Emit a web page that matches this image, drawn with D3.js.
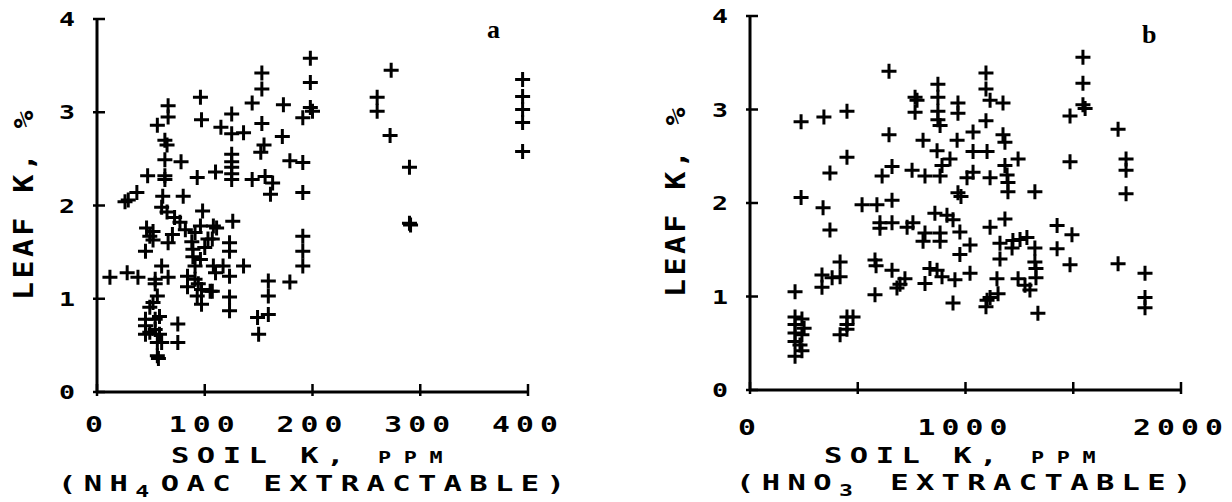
<!DOCTYPE html>
<html lang="en">
<head>
<meta charset="UTF-8">
<title>Leaf K vs soil K</title>
<script src="https://d3js.org/d3.v7.min.js"></script>
<style>
  body { margin: 0; background: #fff; }
  text { fill: #000; }
</style>
</head>
<body>
<svg id="chart" width="1232" height="502"></svg>
<script>
// panel a: NH4OAc extractable soil K (ppm) vs leaf K (%)
const aSoilK = [198,198,198,200,191,173,172,153,153,144,96,97,66,66,56,125,115,125,136,153,
  155,152,63,65,63,78,179,191,125,125,125,125,47,63,63,93,110,156,125,144,
  163,161,191,29,37,26,61,80,60,65,72,77,98,46,52,49,52,70,66,82,
  91,88,96,103,108,100,126,111,107,123,123,45,89,89,96,91,84,91,94,84,
  97,105,93,97,60,12,28,38,54,66,54,56,52,49,45,54,58,45,49,54,
  45,58,56,60,56,57,75,75,108,117,123,110,136,107,123,123,159,159,159,149,
  150,179,191,191,191,273,260,260,272,290,290,291,395,395,395,395,395];
const aLeafK = [3.58,3.32,3.05,3.01,2.94,3.08,2.74,3.42,3.25,3.10,3.16,2.92,3.07,2.95,2.86,2.98,2.84,2.77,2.78,2.88,
  2.65,2.57,2.70,2.65,2.49,2.47,2.48,2.46,2.55,2.47,2.41,2.34,2.32,2.32,2.28,2.30,2.36,2.31,2.28,2.28,
  2.24,2.12,2.14,2.06,2.14,2.04,2.10,2.10,1.98,1.93,1.87,1.82,1.94,1.76,1.72,1.67,1.63,1.69,1.60,1.74,
  1.71,1.61,1.78,1.64,1.78,1.55,1.83,1.76,1.64,1.60,1.51,1.51,1.53,1.45,1.42,1.35,1.24,1.21,1.16,1.13,
  1.10,1.08,1.03,0.94,1.35,1.23,1.28,1.23,1.21,1.23,1.16,1.03,0.96,0.91,0.78,0.78,0.81,0.71,0.64,0.67,
  0.62,0.62,0.53,0.53,0.39,0.36,0.73,0.53,1.35,1.35,1.24,1.28,1.35,1.08,1.02,0.87,1.19,1.03,0.83,0.80,
  0.62,1.18,1.67,1.51,1.35,3.45,3.16,3.01,2.75,2.41,1.81,1.79,3.35,3.17,3.03,2.89,2.58];

// panel b: HNO3 extractable soil K (ppm) vs leaf K (%)
const bSoilK = [1545,1545,1545,1555,1485,1708,1745,1745,1745,1485,645,1095,1095,1114,1174,1095,872,872,766,775,
  766,872,872,882,965,965,1035,1174,1183,1244,645,450,343,237,450,371,237,339,371,803,
  961,868,928,1035,1100,659,613,752,812,882,891,1035,1007,1114,1183,1193,1197,1197,965,979,
  1322,520,589,659,603,603,659,729,756,858,914,942,974,812,882,803,882,1114,1183,1021,
  974,1160,1220,1253,1285,1216,1160,1322,1322,1327,1327,1425,1494,1425,1485,1708,1833,1833,1833,1336,
  580,585,418,418,334,381,334,209,580,659,719,696,682,812,835,868,891,951,1021,942,
  1146,1244,1276,1299,1100,1114,1151,1095,209,241,209,251,209,241,209,232,241,209,450,478,
  450,418,450];
const bLeafK = [3.56,3.28,3.05,3.01,2.93,2.79,2.47,2.35,2.10,2.44,3.41,3.39,3.22,3.10,3.07,2.88,3.27,3.13,3.13,3.10,
  2.97,2.98,2.89,2.83,3.07,2.96,2.76,2.73,2.65,2.47,2.73,2.98,2.92,2.87,2.49,2.32,2.06,1.95,1.71,2.67,
  2.67,2.56,2.47,2.55,2.55,2.39,2.29,2.35,2.29,2.29,2.40,2.33,2.27,2.27,2.40,2.30,2.22,2.12,2.11,2.07,
  2.12,1.98,1.98,2.03,1.79,1.73,1.79,1.74,1.79,1.89,1.87,1.82,1.69,1.68,1.68,1.59,1.59,1.74,1.83,1.55,
  1.45,1.57,1.60,1.61,1.63,1.52,1.40,1.52,1.37,1.30,1.20,1.76,1.66,1.51,1.34,1.35,1.25,0.99,0.88,0.82,
  1.39,1.33,1.37,1.21,1.23,1.20,1.10,1.05,1.02,1.28,1.19,1.13,1.09,1.14,1.30,1.28,1.21,1.18,1.25,0.93,
  1.19,1.19,1.12,1.07,0.96,0.99,1.03,0.89,0.78,0.76,0.70,0.66,0.61,0.59,0.52,0.48,0.42,0.36,0.78,0.78,
  0.70,0.59,0.65];

const yTicks = [0, 1, 2, 3, 4];
const yTickLabels = ["0", "1", "2", "3", "4"];
const aXTicks = [0, 100, 200, 300, 400];
const aXTickLabels = [0, 100, 200, 300, 400];
const bXTicks = [0, 500, 1000, 1500, 2000];
const bXTickLabels = [0, 1000, 2000];

// plotter-like lettering: bold mono, stretched sideways
const mono = "'DejaVu Sans Mono', 'Liberation Mono', monospace";
const svg = d3.select("#chart");

function plotText(g, x, y, size, sx, ls) {
  return g.append("text")
    .attr("transform", `translate(${x},${y}) scale(${sx},1)`)
    .style("font-family", mono).style("font-weight", "bold")
    .style("font-size", size + "px").style("letter-spacing", ls + "px");
}

const panels = [
  {
    xs: aSoilK, ys: aLeafK, xTicks: aXTicks, xLabels: aXTickLabels,
    x: d3.scaleLinear().domain([0, 400]).range([97, 528]),
    y: d3.scaleLinear().domain([0, 4]).range([392, 19]),
    letter: "a", letterPos: [487, 38],
    xLabelBase: 432,
    yTitle: [33, 300],
    t1: [171, 463], t2: [58, 491],
    line2: [["(NH"], ["4", "sub"], ["OAC EXTRACTABLE)"]]
  },
  {
    xs: bSoilK, ys: bLeafK, xTicks: bXTicks, xLabels: bXTickLabels,
    x: d3.scaleLinear().domain([0, 2000]).range([750, 1181]),
    y: d3.scaleLinear().domain([0, 4]).range([390, 16]),
    letter: "b", letterPos: [1142, 43],
    xLabelBase: 435,
    yTitle: [685, 297],
    t1: [824, 463], t2: [736, 490],
    line2: [["(HNO"], ["3", "sub"], [" EXTRACTABLE)"]]
  }
];

panels.forEach(p => {
  const g = svg.append("g");
  const x0 = p.x(0), y0 = p.y(0);

  // axes
  g.append("line")
    .attr("x1", x0).attr("x2", x0)
    .attr("y1", y0).attr("y2", p.y(4))
    .attr("stroke", "#000").attr("stroke-width", 3);
  g.append("line")
    .attr("x1", x0).attr("x2", p.x(p.xTicks[p.xTicks.length - 1]))
    .attr("y1", y0).attr("y2", y0)
    .attr("stroke", "#000").attr("stroke-width", 3);

  g.selectAll(".ytick").data(yTicks).enter().append("line")
    .attr("x1", x0 - 4).attr("x2", x0 + 8)
    .attr("y1", d => p.y(d)).attr("y2", d => p.y(d))
    .attr("stroke", "#000").attr("stroke-width", 2.5);
  g.selectAll(".xtick").data(p.xTicks).enter().append("line")
    .attr("x1", d => p.x(d)).attr("x2", d => p.x(d))
    .attr("y1", y0 - 8).attr("y2", y0 + 4)
    .attr("stroke", "#000").attr("stroke-width", 2.5);

  // tick labels
  yTicks.forEach((d, i) => {
    plotText(g, x0 - 22, p.y(d) + 7, 19, 1.4, 0)
      .attr("text-anchor", "end")
      .text(yTickLabels[i]);
  });
  p.xLabels.forEach(d => {
    plotText(g, p.x(d), p.xLabelBase, 22, 1.35, 4.5)
      .attr("text-anchor", "middle")
      .text(d);
  });

  // axis titles
  g.append("text")
    .attr("transform", `translate(${p.yTitle[0]},${p.yTitle[1]}) rotate(-90) scale(1.15,1)`)
    .style("font-family", mono).style("font-weight", "bold")
    .style("font-size", "26px").style("letter-spacing", "3px")
    .text("LEAF K, %");

  const t1 = plotText(g, p.t1[0], p.t1[1], 21, 1.45, 5.2);
  t1.append("tspan").text("SOIL K, ");
  t1.append("tspan").style("font-size", "15px").style("letter-spacing", "8.8px").text("PPM");

  const t2 = plotText(g, p.t2[0], p.t2[1], 21, 1.45, 5.1);
  p.line2.forEach((part, i) => {
    const ts = t2.append("tspan").text(part[0]);
    if (part[1] === "sub") {
      ts.attr("dy", 6).style("font-size", "16px").style("letter-spacing", "8px");
    } else if (i > 0) {
      ts.attr("dy", -6);
    }
  });

  // panel letter
  g.append("text")
    .attr("x", p.letterPos[0]).attr("y", p.letterPos[1])
    .style("font-family", "'Liberation Serif', serif").style("font-weight", "bold")
    .style("font-size", "26px")
    .text(p.letter);

  // points
  g.selectAll(".pt").data(p.xs.map((v, i) => [v, p.ys[i]])).enter().append("path")
    .attr("transform", d => `translate(${p.x(d[0])},${p.y(d[1])})`)
    .attr("d", "M-7.5,0H7.5M0,-7.5V7.5")
    .attr("stroke", "#000").attr("stroke-width", 3)
    .attr("fill", "none");
});
</script>
</body>
</html>
